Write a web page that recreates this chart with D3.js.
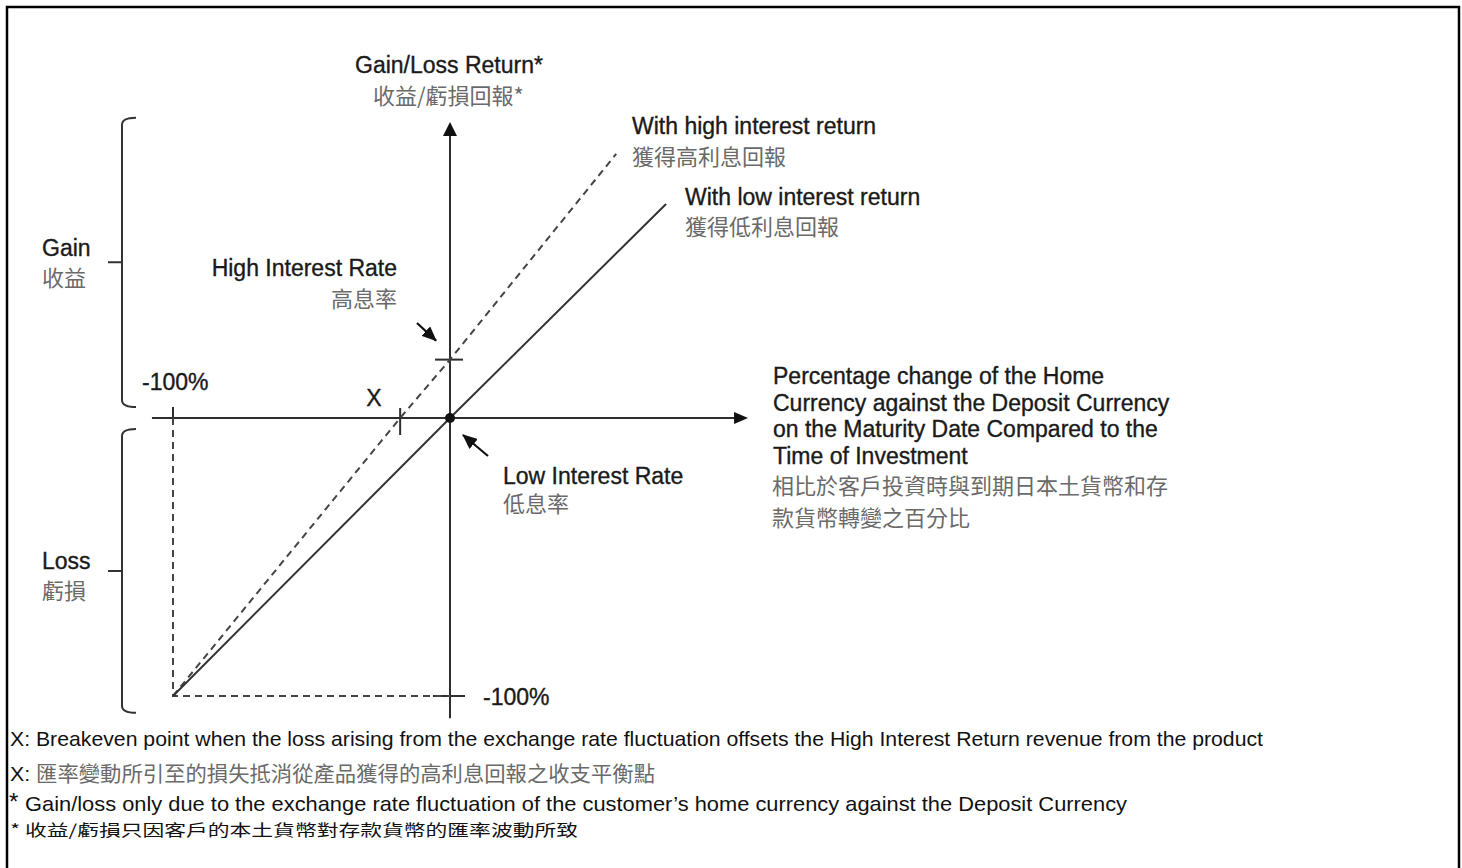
<!DOCTYPE html>
<html>

<head>
  <meta charset="UTF-8">
  <title>Gain/Loss Return</title>
  <style>
    body { margin: 0; background: #fff; }
    text { font-family: "Liberation Sans", Arial, sans-serif; }
    .en { fill: #1a1a1a; font-size: 23px; stroke: #1a1a1a; stroke-width: 0.35px; }
    .zh { fill: #6a6a6a; font-size: 22px; font-family: "Noto Sans CJK TC", sans-serif; }
    .note { fill: #111; font-size: 21px; }
  </style>
</head>

<body>
  <script src="https://cdn.jsdelivr.net/npm/d3@7"></script>
  <script>
    const width = 1462,
      height = 868

    // values in % change (x: home vs deposit currency, y: gain/loss return)
    const xExtent = [-107.6, 107.6]
    const yExtent = [-108, 106.5]
    const floorValue = -100
    const breakeven = -18
    const highRate = 21

    const lowReturn = [[-100, -100], [0, 0], [78, 77]]
    const highReturn = [[-100, -100], [breakeven, 0], [0, highRate], [60, 95]]

    const gainRange = [4, 108]
    const lossRange = [-4, -106]

    const yTitle = ['Gain/Loss Return*', '收益/虧損回報*']
    const xTitle = ['Percentage change of the Home', 'Currency against the Deposit Currency',
      'on the Maturity Date Compared to the', 'Time of Investment']
    const xTitleZh = ['相比於客戶投資時與到期日本土貨幣和存', '款貨幣轉變之百分比']
    const highLabel = ['With high interest return', '獲得高利息回報']
    const lowLabel = ['With low interest return', '獲得低利息回報']
    const gainLabel = ['Gain', '收益']
    const lossLabel = ['Loss', '虧損']
    const highRateLabel = ['High Interest Rate', '高息率']
    const lowRateLabel = ['Low Interest Rate', '低息率']
    const floorLabel = '-100%'

    const notes = [
      'X: Breakeven point when the loss arising from the exchange rate fluctuation offsets the High Interest Return revenue from the product',
      '匯率變動所引至的損失抵消從產品獲得的高利息回報之收支平衡點',
      'Gain/loss only due to the exchange rate fluctuation of the customer’s home currency against the Deposit Currency',
      '* 收益/虧損只因客戶的本土貨幣對存款貨幣的匯率波動所致'
    ]

    const svg = d3.select('body')
      .append('svg')
      .attr('width', width)
      .attr('height', height)

    svg.append('defs')
      .append('marker')
      .attr('id', 'head')
      .attr('viewBox', '0 0 14 12')
      .attr('refX', 13)
      .attr('refY', 6)
      .attr('markerWidth', 15)
      .attr('markerHeight', 13)
      .attr('markerUnits', 'userSpaceOnUse')
      .attr('orient', 'auto')
      .append('path')
      .attr('d', 'M0,0L14,6L0,12z')
      .attr('fill', '#111')

    // frame
    svg.append('rect')
      .attr('x', 7).attr('y', 7)
      .attr('width', 1452).attr('height', 900)
      .attr('fill', 'none')
      .attr('stroke', '#000')
      .attr('stroke-width', 2.5)

    const xScale = d3.scaleLinear()
      .domain([-100, 0])
      .range([173, 450])

    const yScale = d3.scaleLinear()
      .domain([-100, 0])
      .range([696, 418])

    const x0 = xScale(0), y0 = yScale(0)
    const axisColor = '#2e2e2e'

    // axes
    svg.append('line')
      .attr('x1', xScale(xExtent[0])).attr('x2', xScale(xExtent[1]) - 12)
      .attr('y1', y0).attr('y2', y0)
      .attr('stroke', axisColor).attr('stroke-width', 2)
    svg.append('path')
      .attr('d', `M${xScale(xExtent[1])},${y0}l-14,-6v12z`)
      .attr('fill', '#111')

    svg.append('line')
      .attr('x1', x0).attr('x2', x0)
      .attr('y1', yScale(yExtent[0])).attr('y2', yScale(yExtent[1]) + 12)
      .attr('stroke', axisColor).attr('stroke-width', 2)
    svg.append('path')
      .attr('d', `M${x0},${yScale(yExtent[1])}l-7,14h14z`)
      .attr('fill', '#111')

    // ticks
    const ticks = [
      [xScale(floorValue), y0 - 11, xScale(floorValue), y0],
      [xScale(breakeven), y0 - 10, xScale(breakeven), y0 + 17],
      [x0 - 15, yScale(highRate), x0 + 13, yScale(highRate)],
      [x0 - 17, yScale(floorValue), x0 + 15, yScale(floorValue)]
    ]
    svg.selectAll('line.tick')
      .data(ticks).enter()
      .append('line')
      .classed('tick', true)
      .attr('x1', d => d[0]).attr('y1', d => d[1])
      .attr('x2', d => d[2]).attr('y2', d => d[3])
      .attr('stroke', axisColor).attr('stroke-width', 2)

    // -100% guides
    svg.append('path')
      .attr('d', `M${xScale(floorValue)},${y0}V${yScale(floorValue)}H${x0}`)
      .attr('fill', 'none')
      .attr('stroke', '#444')
      .attr('stroke-width', 2)
      .attr('stroke-dasharray', '7,5')

    const line = d3.line()
      .x(d => xScale(d[0]))
      .y(d => yScale(d[1]))

    svg.append('path')
      .attr('d', line(highReturn))
      .attr('fill', 'none')
      .attr('stroke', '#444')
      .attr('stroke-width', 2)
      .attr('stroke-dasharray', '7,5')

    svg.append('path')
      .attr('d', line(lowReturn))
      .attr('fill', 'none')
      .attr('stroke', '#333')
      .attr('stroke-width', 2)

    svg.append('circle')
      .attr('cx', x0).attr('cy', y0)
      .attr('r', 5)
      .attr('fill', '#111')

    // brackets
    function bracket(range) {
      const bx = 122
      const yt = yScale(range[1]), yb = yScale(range[0])
      const top = Math.min(yt, yb), bot = Math.max(yt, yb)
      const ym = (top + bot) / 2
      return `M${bx + 14},${top}Q${bx},${top} ${bx},${top + 7}V${bot - 7}Q${bx},${bot} ${bx + 14},${bot}` +
        `M${bx - 14},${ym}H${bx}`
    }
    svg.selectAll('path.bracket')
      .data([gainRange, lossRange]).enter()
      .append('path')
      .classed('bracket', true)
      .attr('d', bracket)
      .attr('fill', 'none')
      .attr('stroke', '#333')
      .attr('stroke-width', 2)

    // annotation arrows
    const pointers = [
      [417, 323, x0 - 14, yScale(highRate) - 19],
      [488, 456, x0 + 13, y0 + 17]
    ]
    svg.selectAll('line.pointer')
      .data(pointers).enter()
      .append('line')
      .classed('pointer', true)
      .attr('x1', d => d[0]).attr('y1', d => d[1])
      .attr('x2', d => d[2]).attr('y2', d => d[3])
      .attr('stroke', '#111')
      .attr('stroke-width', 2.2)
      .attr('marker-end', 'url(#head)')

    // labels
    function pair(labels, x, y, anchor, zhDx = 0, gap = 30) {
      const g = svg.append('g')
      g.append('text').classed('en', true)
        .attr('x', x).attr('y', y)
        .attr('text-anchor', anchor)
        .text(labels[0])
      g.append('text').classed('zh', true)
        .attr('x', x + zhDx).attr('y', y + gap)
        .attr('text-anchor', anchor)
        .text(labels[1])
    }

    pair(yTitle, 355, 73, 'start', 18, 31)
    pair(highLabel, 632, 134, 'start', 0, 31)
    pair(lowLabel, 685, 205, 'start', 0, 30)
    pair(gainLabel, 42, 256, 'start', 0, 30)
    pair(lossLabel, 42, 569, 'start', 0, 30)
    pair(highRateLabel, 397, 276, 'end', 0, 31)
    pair(lowRateLabel, 503, 484, 'start', 0, 28)

    svg.append('text').classed('en', true)
      .attr('x', xScale(floorValue) - 31).attr('y', y0 - 28)
      .text(floorLabel)
    svg.append('text').classed('en', true)
      .attr('x', xScale(breakeven) - 34).attr('y', y0 - 12)
      .text('X')
    svg.append('text').classed('en', true)
      .attr('x', x0 + 33).attr('y', yScale(floorValue) + 9)
      .text(floorLabel)

    svg.selectAll('text.xt')
      .data(xTitle).enter()
      .append('text')
      .attr('class', 'en xt')
      .attr('x', 773)
      .attr('y', (d, i) => 384 + i * 26.5)
      .text(d => d)

    svg.selectAll('text.xz')
      .data(xTitleZh).enter()
      .append('text')
      .attr('class', 'zh xz')
      .attr('x', 772)
      .attr('y', (d, i) => 494 + i * 32)
      .text(d => d)

    // footnotes
    svg.append('text').classed('note', true)
      .attr('x', 10).attr('y', 746)
      .attr('textLength', 1253)
      .attr('lengthAdjust', 'spacingAndGlyphs')
      .text(notes[0])

    const n2 = svg.append('text').classed('note', true)
      .attr('x', 10).attr('y', 781)
      .attr('textLength', 645)
      .attr('lengthAdjust', 'spacingAndGlyphs')
    n2.append('tspan').text('X: ')
    n2.append('tspan')
      .style('font-family', '"Noto Sans CJK TC", sans-serif')
      .attr('fill', '#6a6a6a')
      .text(notes[1])

    svg.append('text').classed('note', true)
      .attr('x', 9).attr('y', 810)
      .style('font-size', '24px')
      .text('*')
    svg.append('text').classed('note', true)
      .attr('x', 25).attr('y', 811)
      .attr('textLength', 1102)
      .attr('lengthAdjust', 'spacingAndGlyphs')
      .text(notes[2])

    svg.append('text').classed('note', true)
      .attr('x', 10).attr('y', 836)
      .attr('textLength', 568)
      .attr('lengthAdjust', 'spacingAndGlyphs')
      .style('font-size', '16px')
      .style('font-family', '"Noto Sans CJK TC", sans-serif')
      .attr('fill', '#6a6a6a')
      .text(notes[3])
  </script>
</body>

</html>
